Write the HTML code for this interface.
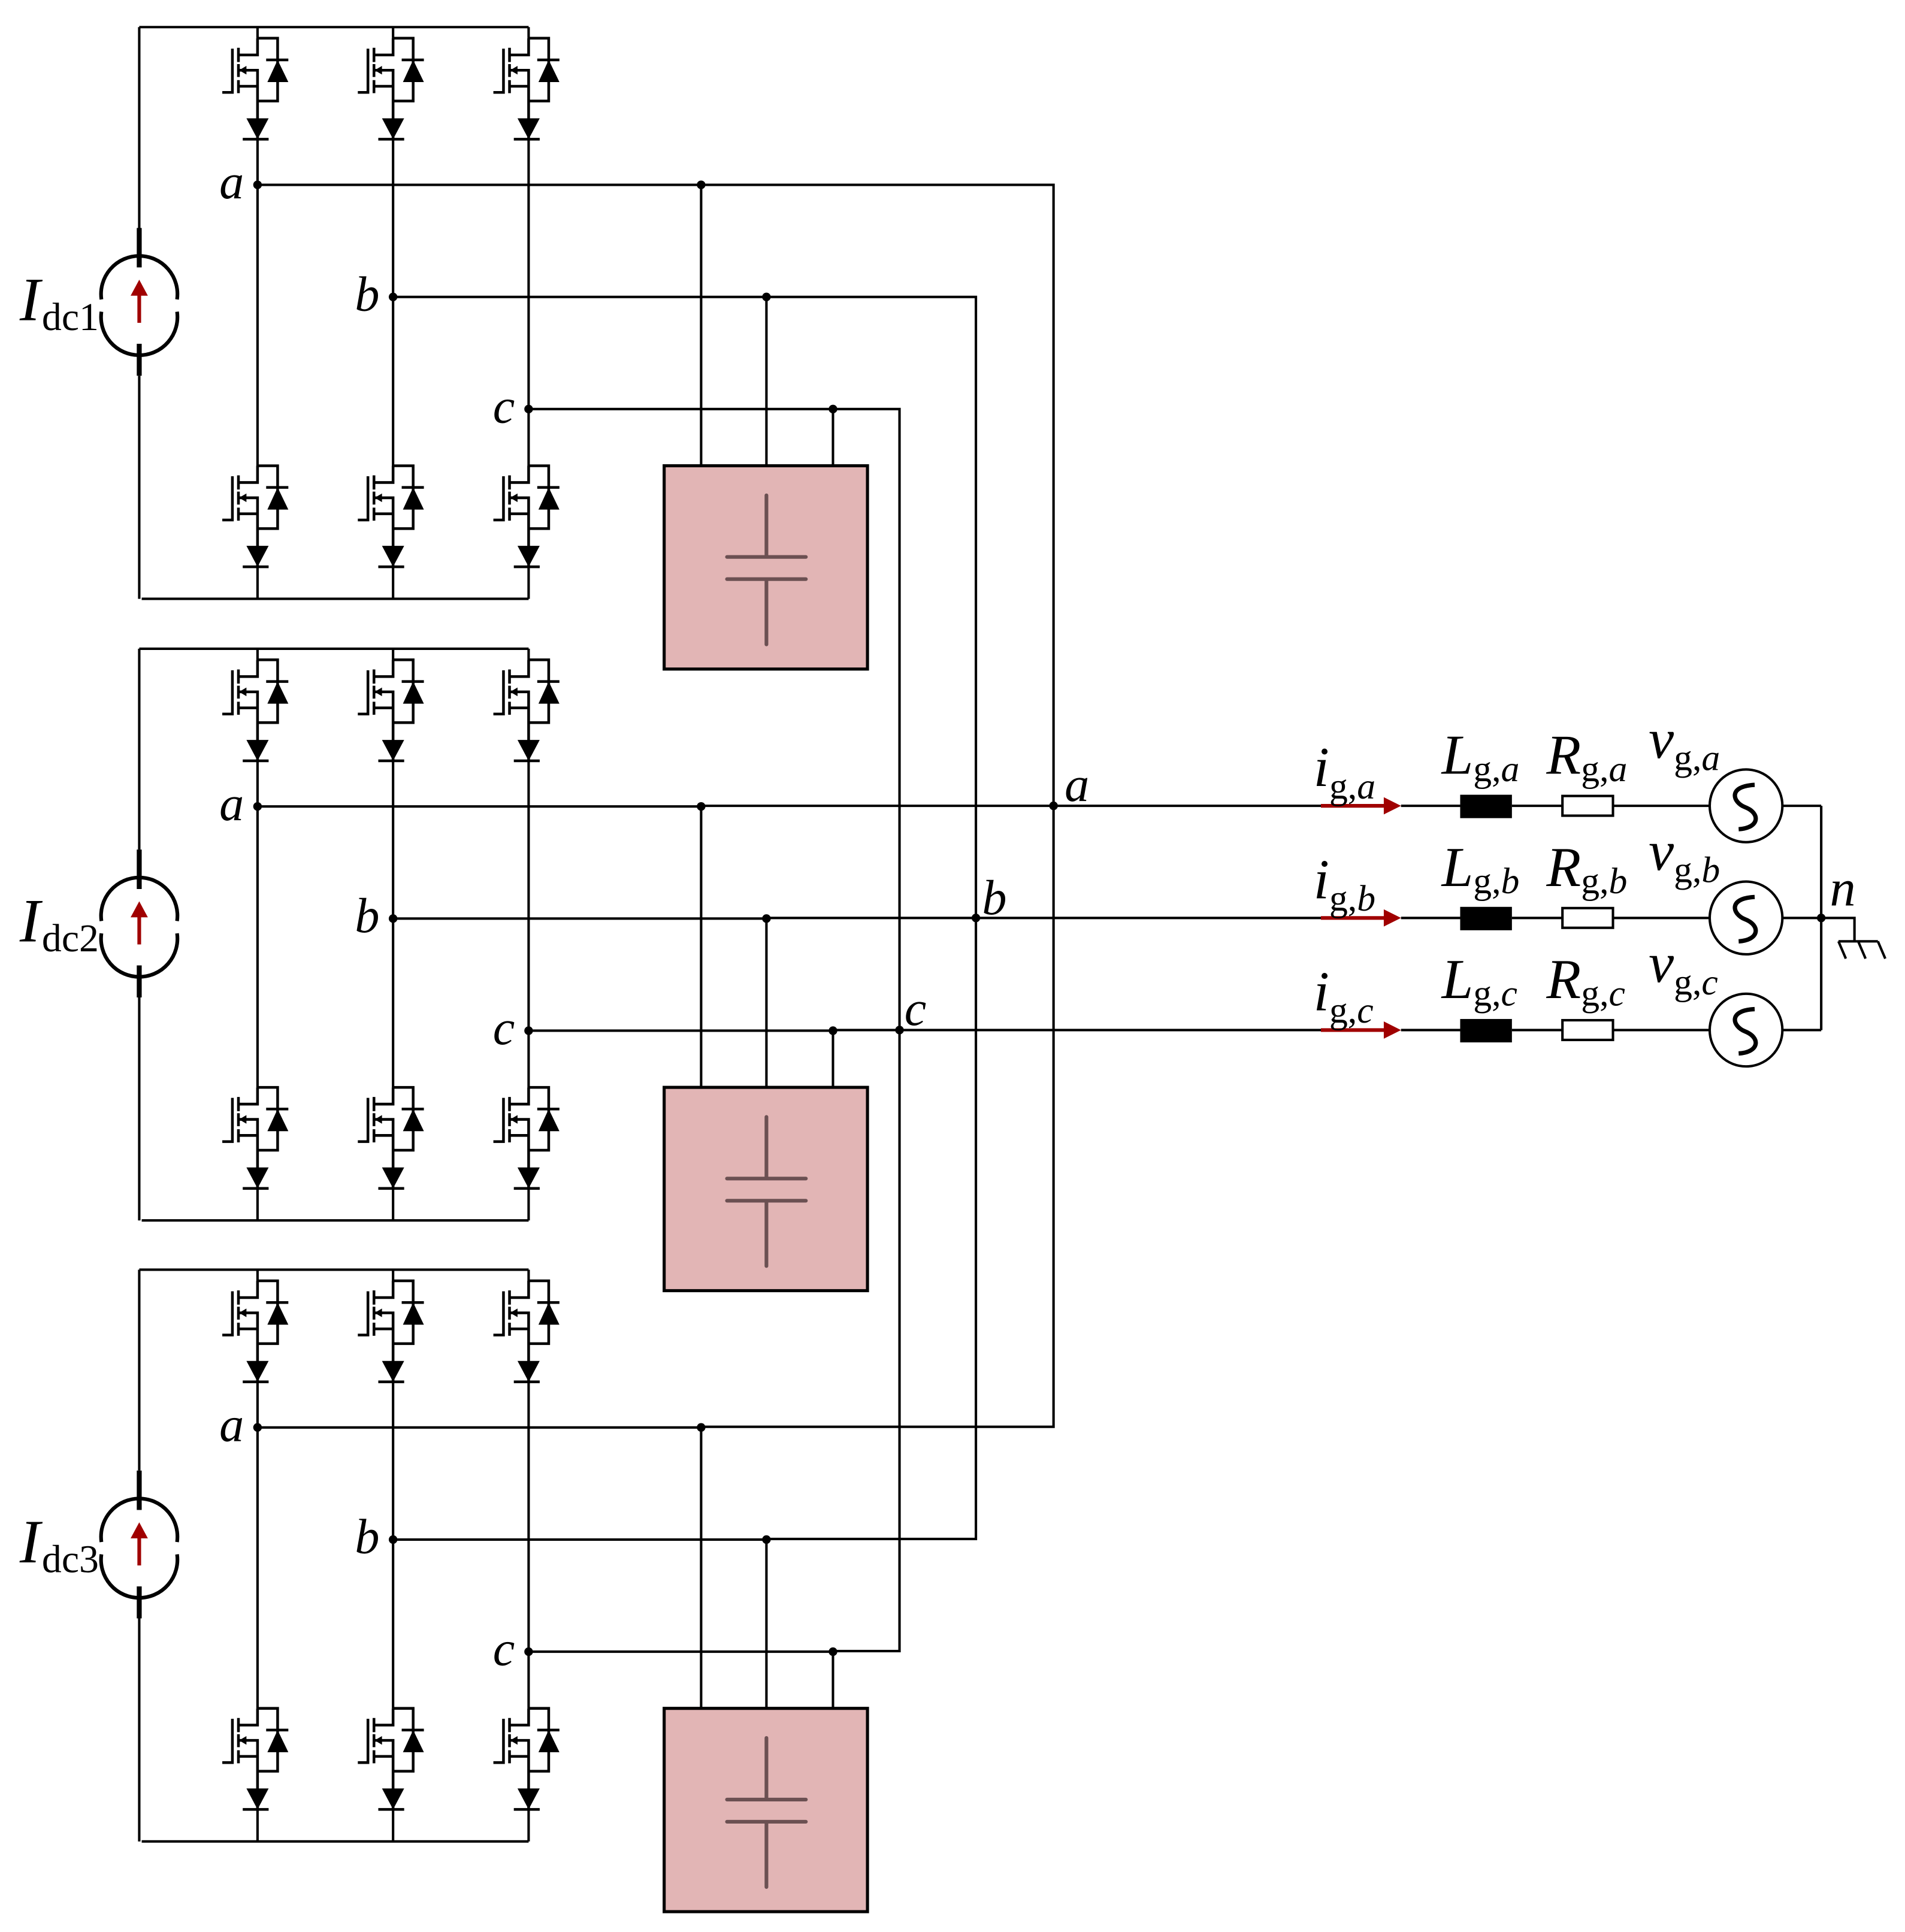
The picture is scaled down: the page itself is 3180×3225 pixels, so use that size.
<!DOCTYPE html>
<html><head><meta charset="utf-8"><style>
html,body{margin:0;padding:0;background:#fff;}
svg{display:block;}
text{font-family:"Liberation Serif",serif;fill:#000;}
.it{font-style:italic;}
</style></head><body>
<svg width="3180" height="3225" viewBox="0 0 1546 1568" preserveAspectRatio="none" xmlns="http://www.w3.org/2000/svg">
<defs>
<g id="sw" stroke="#000" stroke-width="2.2" fill="none">
  <path d="M0,0 V13.6 H-15.5 M-15.5,26 H0 V82 M-15.5,39 H0 M0,0 H16.3 V51 H0 M7,17.6 H25 M-15.5,7.8 V19.3 M-15.5,21 V31.5 M-15.5,34 V44.6 M-20.4,8.5 V44 H-28.6 M-12,82 H9"/>
  <polygon points="8,35.6 25,35.6 16.3,17.6" fill="#000" stroke="none"/>
  <polygon points="-15,26 -9,22.5 -9,29.5" fill="#000" stroke="none"/>
  <polygon points="-9,65 9,65 0,82" fill="#000" stroke="none"/>
</g>
<g id="mod">
  <g stroke="#000" stroke-width="2" fill="none">
    <path d="M113,22 H429 M115,486 H429 M113,22 V185 M113,305 V486"/>
    <path d="M113,185 V217 M113,279 V305" stroke-width="4"/>
    <path d="M209,22 V31 M319,22 V31 M429,22 V31 M209,113 V378 M319,113 V378 M429,113 V378 M209,460 V486 M319,460 V486 M429,460 V486"/>
    <path d="M82.3,243 A31,31 0 1 1 143.7,243 M143.7,253 A31,31 0 1 1 82.3,253" stroke-width="3"/>
    <path d="M209,150 H569 M319,241 H622 M429,332 H676 M569,150 V378 M622,241 V378 M676,332 V378"/>
  </g>
  <path d="M113,262 V238" stroke="#a00000" stroke-width="3"/>
  <polygon points="113,227 106,240 120,240" fill="#a00000"/>
  <use href="#sw" x="209" y="31"/><use href="#sw" x="319" y="31"/><use href="#sw" x="429" y="31"/>
  <use href="#sw" x="209" y="378"/><use href="#sw" x="319" y="378"/><use href="#sw" x="429" y="378"/>
  <g fill="#000"><circle cx="209" cy="150" r="3.5"/><circle cx="319" cy="241" r="3.5"/><circle cx="429" cy="332" r="3.5"/>
  <circle cx="569" cy="150" r="3.5"/><circle cx="622" cy="241" r="3.5"/><circle cx="676" cy="332" r="3.5"/></g>
  <rect x="539" y="378" width="165" height="165" fill="#e2b5b5" stroke="#000" stroke-width="2.5"/>
  <path d="M622,402 V452 M590,452 H654 M590,470 H654 M622,470 V523" stroke="#5e4547" stroke-width="3" stroke-linecap="round" fill="none" opacity="0.9"/>
  <text class="it" x="178" y="161" font-size="40">a</text>
  <text class="it" x="288" y="252" font-size="40">b</text>
  <text class="it" x="400" y="343" font-size="40">c</text>
</g>
</defs>

<use href="#mod" x="0" y="0"/>
<use href="#mod" x="0" y="504.5"/>
<use href="#mod" x="0" y="1008.5"/>

<text x="16" y="260" font-size="50" class="it">I</text><text x="34" y="268" font-size="32">dc1</text>
<text x="16" y="764" font-size="50" class="it">I</text><text x="34" y="772" font-size="32">dc2</text>
<text x="16" y="1268" font-size="50" class="it">I</text><text x="34" y="1276" font-size="32">dc3</text>

<g stroke="#000" stroke-width="2" fill="none">
  <path d="M569,150 H855 V1158 H569 M622,241 H792 V1249 H622 M676,332 H730 V1340 H676"/>
  <path d="M569,654 H1072 M622,745 H1072 M676,836 H1072"/>
  <path d="M1137,654 H1185 M1227,654 H1268 M1309,654 H1388 M1446,654 H1478"/>
  <path d="M1137,745 H1185 M1227,745 H1268 M1309,745 H1388 M1446,745 H1505 V764"/>
  <path d="M1137,836 H1185 M1227,836 H1268 M1309,836 H1388 M1446,836 H1478"/>
  <path d="M1478,654 V836"/>
  <path d="M1492,764 H1524 M1492,764 L1498,778 M1508,764 L1514,778 M1524,764 L1530,778"/>
  <rect x="1268" y="646" width="41" height="16" fill="#fff"/>
  <rect x="1268" y="737" width="41" height="16" fill="#fff"/>
  <rect x="1268" y="828" width="41" height="16" fill="#fff"/>
  <circle cx="1417" cy="654" r="29.5"/><circle cx="1417" cy="745" r="29.5"/><circle cx="1417" cy="836" r="29.5"/>
  <path d="M1424,637 C1402,638 1406,651 1416,655 C1429,660 1428,672 1411,673" stroke-width="3.5"/>
  <path d="M1424,728 C1402,729 1406,742 1416,746 C1429,751 1428,763 1411,764" stroke-width="3.5"/>
  <path d="M1424,819 C1402,820 1406,833 1416,837 C1429,842 1428,854 1411,855" stroke-width="3.5"/>
</g>
<g fill="#000">
  <rect x="1185" y="645" width="42" height="19"/><rect x="1185" y="736" width="42" height="19"/><rect x="1185" y="827" width="42" height="19"/>
  <circle cx="855" cy="654" r="3.5"/><circle cx="792" cy="745" r="3.5"/><circle cx="730" cy="836" r="3.5"/><circle cx="1478" cy="745" r="3.5"/>
</g>
<g stroke="#a00000" stroke-width="3"><path d="M1072,654 H1126 M1072,745 H1126 M1072,836 H1126"/></g>
<g fill="#a00000"><polygon points="1137,654 1123,647 1123,661"/><polygon points="1137,745 1123,738 1123,752"/><polygon points="1137,836 1123,829 1123,843"/></g>

<text class="it" x="864" y="650" font-size="40">a</text>
<text class="it" x="797" y="742" font-size="40">b</text>
<text class="it" x="734" y="832" font-size="40">c</text>
<text class="it" x="1485" y="735" font-size="42">n</text>

<g font-size="46">
<text x="1066" y="638"><tspan class="it">i</tspan><tspan font-size="30" dy="10">g,</tspan><tspan font-size="30" class="it">a</tspan></text>
<text x="1170" y="628"><tspan class="it">L</tspan><tspan font-size="30" dy="6">g,</tspan><tspan font-size="30" class="it">a</tspan></text>
<text x="1255" y="628"><tspan class="it">R</tspan><tspan font-size="30" dy="6">g,</tspan><tspan font-size="30" class="it">a</tspan></text>
<text x="1338" y="615"><tspan class="it">v</tspan><tspan font-size="30" dy="10">g,</tspan><tspan font-size="30" class="it">a</tspan></text>

<text x="1066" y="729"><tspan class="it">i</tspan><tspan font-size="30" dy="10">g,</tspan><tspan font-size="30" class="it">b</tspan></text>
<text x="1170" y="719"><tspan class="it">L</tspan><tspan font-size="30" dy="6">g,</tspan><tspan font-size="30" class="it">b</tspan></text>
<text x="1255" y="719"><tspan class="it">R</tspan><tspan font-size="30" dy="6">g,</tspan><tspan font-size="30" class="it">b</tspan></text>
<text x="1338" y="706"><tspan class="it">v</tspan><tspan font-size="30" dy="10">g,</tspan><tspan font-size="30" class="it">b</tspan></text>

<text x="1066" y="820"><tspan class="it">i</tspan><tspan font-size="30" dy="10">g,</tspan><tspan font-size="30" class="it">c</tspan></text>
<text x="1170" y="810"><tspan class="it">L</tspan><tspan font-size="30" dy="6">g,</tspan><tspan font-size="30" class="it">c</tspan></text>
<text x="1255" y="810"><tspan class="it">R</tspan><tspan font-size="30" dy="6">g,</tspan><tspan font-size="30" class="it">c</tspan></text>
<text x="1338" y="797"><tspan class="it">v</tspan><tspan font-size="30" dy="10">g,</tspan><tspan font-size="30" class="it">c</tspan></text>
</g>
</svg>
</body></html>
